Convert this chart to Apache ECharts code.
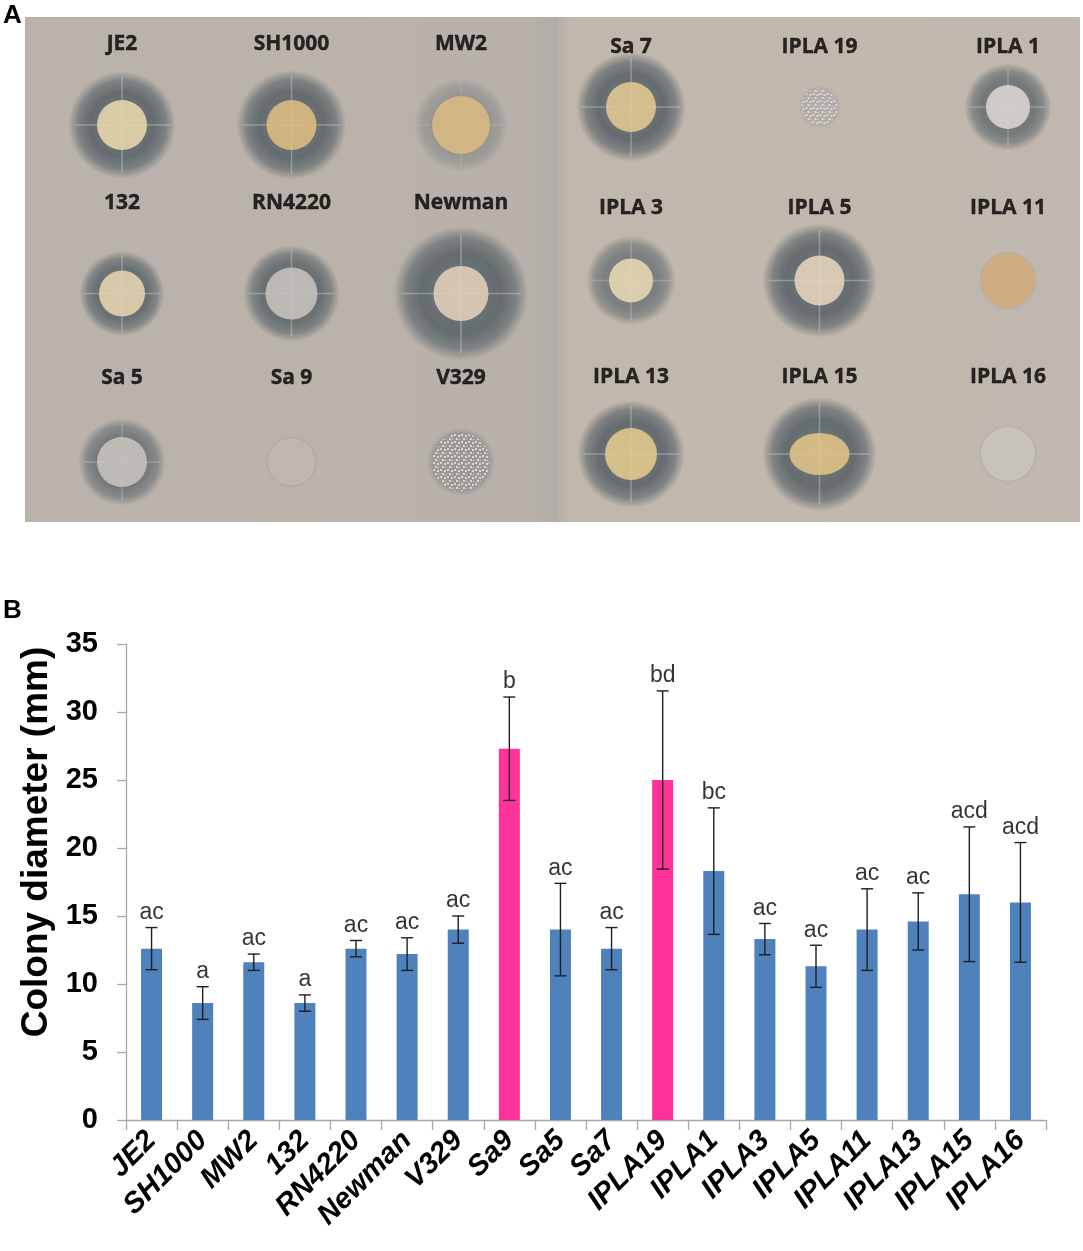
<!DOCTYPE html>
<html>
<head>
<meta charset="utf-8">
<title>Colony diameter</title>
<script src="https://cdn.jsdelivr.net/npm/echarts@6.0.0/dist/echarts.min.js"></script>
<style>
  html, body { margin: 0; padding: 0; background: #fff; }
  #chart { width: 1083px; height: 1251px; }
</style>
</head>
<body>
<div id="chart"></div>
<script>
// ---- panel B data ----
var strains = ['JE2', 'SH1000', 'MW2', '132', 'RN4220', 'Newman', 'V329', 'Sa9', 'Sa5', 'Sa7',
  'IPLA19', 'IPLA1', 'IPLA3', 'IPLA5', 'IPLA11', 'IPLA13', 'IPLA15', 'IPLA16'];
var diameter = [12.6, 8.6, 11.6, 8.6, 12.6, 12.2, 14.0, 27.3, 14.0, 12.6,
  25.0, 18.3, 13.3, 11.3, 14.0, 14.6, 16.6, 16.0];
var sd = [1.55, 1.2, 0.6, 0.6, 0.6, 1.2, 1.0, 3.8, 3.4, 1.55,
  6.55, 4.65, 1.15, 1.55, 3.0, 2.1, 4.95, 4.4];
var letters = ['ac', 'a', 'ac', 'a', 'ac', 'ac', 'ac', 'b', 'ac', 'ac',
  'bd', 'bc', 'ac', 'ac', 'ac', 'ac', 'acd', 'acd'];
var pinkStrains = ['Sa9', 'IPLA19'];
var yTicks = [0, 5, 10, 15, 20, 25, 30, 35];

// ---- panel A (plate photo) : strains in row order, 3 x 3 per plate ----
var plateLeft = ['JE2', 'SH1000', 'MW2', '132', 'RN4220', 'Newman', 'Sa 5', 'Sa 9', 'V329'];
var leftColony = [50, 50, 58, 46, 52, 55, 50, 47, 58];
var leftHalo = [96, 98, 84, 76, 86, 120, 78, 0, 62];
var leftHaloStrength = [1, 1, 0.4, 0.95, 0.95, 1, 0.8, 0, 0.35];
var plateRight = ['Sa 7', 'IPLA 19', 'IPLA 1', 'IPLA 3', 'IPLA 5', 'IPLA 11', 'IPLA 13', 'IPLA 15', 'IPLA 16'];
var rightColony = [50, 37, 44, 44, 50, 54, 52, 60, 54];
var rightHalo = [98, 0, 78, 80, 102, 0, 96, 102, 0];
var rightHaloStrength = [1, 0, 0.85, 0.75, 1, 0, 1, 1, 0];

// colony pigment colours and textures (style)
var leftColonyColor = ['#f3e2b3', '#e8c684', '#e4c185', '#f0dfb6', '#cfcbc6', '#eedac3', '#d0ccc7', '#c4bfb8', '#9f9c9b'];
var rightColonyColor = ['#eed296', '#b3afac', '#e4e0dd', '#f2e3bc', '#f2e0c6', '#d9b27c', '#eed291', '#ebcc8c', '#cfcac5'];
var colonyAspect = { 'IPLA 15': 0.7 };
var speckled = { 'V329': true, 'IPLA 19': true };

var chart = echarts.init(document.getElementById('chart'));

var FONT = '"Liberation Sans", Arial, sans-serif';
var AXIS_GRAY = '#a6a6a6';

// small repeating texture for the grainy colonies; symbols are drawn in a
// unit space scaled by size/2, so the pattern is scaled back by 2/size
function speckle(base, size) {
  var c = document.createElement('canvas');
  c.width = 7; c.height = 7;
  var g = c.getContext('2d');
  g.fillStyle = base;
  g.fillRect(0, 0, 7, 7);
  g.fillStyle = 'rgba(238,236,234,0.95)';
  g.fillRect(0, 0, 2, 2);
  g.fillRect(4, 1, 2, 2);
  g.fillRect(2, 4, 2, 2);
  g.fillRect(5, 5, 1, 1);
  return { image: c, repeat: 'repeat', scaleX: 2 / size, scaleY: 2 / size };
}

function plateSeries(names, colony, halo, strength, colors, gridIdx, lifts, prefix) {
  var haloData = [], colonyData = [], labelData = [], crossData = [];
  names.forEach(function (n, i) {
    var col = i % 3, row = Math.floor(i / 3);
    if (halo[i] > 0) {
      haloData.push({
        value: [col, row],
        symbolSize: halo[i] * 1.12,
        itemStyle: { opacity: strength[i] }
      });
      crossData.push([col, row, halo[i] * 0.5, strength[i]]);
    }
    var asp = colonyAspect[n] || 1;
    colonyData.push({
      value: [col, row],
      symbolSize: [colony[i], colony[i] * asp],
      itemStyle: { color: speckled[n] ? speckle(colors[i], colony[i]) : colors[i] }
    });
    labelData.push({
      value: [col, row],
      label: { offset: [0, -lifts[row]] }
    });
  });
  var haloColor = {
    type: 'radial', x: 0.5, y: 0.5, r: 0.5,
    colorStops: [
      { offset: 0, color: '#737a7d' },
      { offset: 0.6, color: '#646c70' },
      { offset: 0.82, color: 'rgba(100,108,112,0.7)' },
      { offset: 1, color: 'rgba(100,108,112,0)' }
    ]
  };
  return [
    {
      name: prefix + 'halo', type: 'scatter', xAxisIndex: gridIdx, yAxisIndex: gridIdx,
      data: haloData, symbol: 'circle', silent: true, z: 2,
      itemStyle: { color: haloColor }
    },
    {
      name: prefix + 'cross', type: 'custom', xAxisIndex: gridIdx, yAxisIndex: gridIdx,
      data: crossData, silent: true, z: 3,
      renderItem: function (params, api) {
        var p = api.coord([api.value(0), api.value(1)]);
        var r = api.value(2);
        var st = { stroke: 'rgba(215,215,215,' + (0.4 * api.value(3)) + ')', lineWidth: 1.5 };
        return {
          type: 'group', children: [
            { type: 'line', shape: { x1: p[0] - r, y1: p[1], x2: p[0] + r, y2: p[1] }, style: st },
            { type: 'line', shape: { x1: p[0], y1: p[1] - r, x2: p[0], y2: p[1] + r }, style: st }
          ]
        };
      }
    },
    {
      name: prefix + 'colony', type: 'scatter', xAxisIndex: gridIdx, yAxisIndex: gridIdx,
      data: colonyData, symbol: 'circle', silent: true, z: 4,
      itemStyle: { shadowBlur: 3, shadowColor: 'rgba(120,110,100,0.5)' }
    },
    {
      name: prefix + 'label', type: 'scatter', xAxisIndex: gridIdx, yAxisIndex: gridIdx,
      data: labelData, symbolSize: 1, silent: true, z: 5,
      itemStyle: { color: 'rgba(0,0,0,0)' },
      label: {
        show: true, position: 'inside',
        formatter: function (p) { return names[p.dataIndex]; },
        fontFamily: '"Open Sans", sans-serif', fontWeight: 'bold', fontSize: 21,
        color: '#000', textBorderColor: '#000', textBorderWidth: 0.4
      }
    }
  ];
}

var hiddenX = function (g) { return { gridIndex: g, type: 'value', min: 0, max: 2, show: false }; };
var hiddenY = function (g) { return { gridIndex: g, type: 'value', min: 0, max: 2, inverse: true, show: false }; };

var barData = diameter.map(function (v, i) {
  return {
    value: v,
    itemStyle: { color: pinkStrains.indexOf(strains[i]) >= 0 ? '#ff3399' : '#4f81bd' }
  };
});
var errData = diameter.map(function (v, i) { return [i, v - sd[i], v + sd[i]]; });
var letterData = diameter.map(function (v, i) { return [i, v + sd[i]]; });

var option = {
  animation: false,
  textStyle: { fontFamily: FONT },
  graphic: [
    {
      type: 'rect', z: 0, shape: { x: 25, y: 17, width: 532, height: 505 },
      style: {
        fill: {
          type: 'linear', x: 0, y: 0, x2: 1, y2: 0,
          colorStops: [
            { offset: 0, color: '#b9b3ac' }, { offset: 0.5, color: '#bab3aa' },
            { offset: 0.95, color: '#b7b1aa' }, { offset: 1, color: '#b0aca8' }
          ]
        }
      }
    },
    {
      type: 'rect', z: 0, shape: { x: 557, y: 17, width: 523, height: 505 },
      style: {
        fill: {
          type: 'linear', x: 0, y: 0, x2: 1, y2: 0,
          colorStops: [
            { offset: 0, color: '#b8b1a8' }, { offset: 0.03, color: '#c1b8ad' },
            { offset: 1, color: '#c0b8ae' }
          ]
        }
      }
    },
    { type: 'text', left: 3, top: 3, style: { text: 'A', font: 'bold 26px ' + FONT, fill: '#000' } },
    { type: 'text', left: 3, top: 598, style: { text: 'B', font: 'bold 26px ' + FONT, fill: '#000' } }
  ],
  grid: [
    { left: 126, right: 37, top: 644, bottom: 131, outerBoundsMode: 'none' },
    { left: 122, width: 339, top: 125, height: 337, outerBoundsMode: 'none' },
    { left: 631, width: 377, top: 107, height: 347, outerBoundsMode: 'none' }
  ],
  xAxis: [
    {
      gridIndex: 0, type: 'category', data: strains,
      axisLine: { lineStyle: { color: AXIS_GRAY, width: 1.3 } },
      axisTick: { show: true, interval: 0, length: 10, lineStyle: { color: AXIS_GRAY, width: 1.3 } },
      axisLabel: {
        interval: 0, rotate: 45, margin: 16, color: '#000',
        fontFamily: FONT, fontWeight: 'bold', fontStyle: 'italic', fontSize: 29
      }
    },
    hiddenX(1), hiddenX(2)
  ],
  yAxis: [
    {
      gridIndex: 0, type: 'value', min: yTicks[0], max: yTicks[yTicks.length - 1], interval: 5,
      name: 'Colony diameter (mm)', nameLocation: 'middle', nameGap: 64,
      nameTextStyle: {
        fontFamily: FONT, fontWeight: 'bold', fontSize: 37, color: '#000',
        padding: [0, 0, 0, 80]
      },
      axisLine: { show: true, lineStyle: { color: AXIS_GRAY, width: 1.3 } },
      axisTick: { show: true, length: 9, lineStyle: { color: AXIS_GRAY, width: 1.3 } },
      splitLine: { show: false },
      axisLabel: { margin: 28, color: '#000', fontFamily: FONT, fontWeight: 'bold', fontSize: 29 }
    },
    hiddenY(1), hiddenY(2)
  ],
  series: [
    {
      type: 'bar', xAxisIndex: 0, yAxisIndex: 0, data: barData, barWidth: 21, z: 2
    },
    {
      type: 'custom', xAxisIndex: 0, yAxisIndex: 0, data: errData, z: 3,
      encode: { x: 0, y: [1, 2] },
      renderItem: function (params, api) {
        var hi = api.coord([api.value(0), api.value(2)]);
        var lo = api.coord([api.value(0), api.value(1)]);
        var w = 6;
        var st = { stroke: '#1e1e1e', lineWidth: 1.4 };
        return {
          type: 'group', children: [
            { type: 'line', shape: { x1: hi[0], y1: hi[1], x2: lo[0], y2: lo[1] }, style: st },
            { type: 'line', shape: { x1: hi[0] - w, y1: hi[1], x2: hi[0] + w, y2: hi[1] }, style: st },
            { type: 'line', shape: { x1: lo[0] - w, y1: lo[1], x2: lo[0] + w, y2: lo[1] }, style: st }
          ]
        };
      }
    },
    {
      type: 'scatter', xAxisIndex: 0, yAxisIndex: 0, data: letterData, z: 4,
      symbolSize: 1, itemStyle: { color: 'rgba(0,0,0,0)' },
      label: {
        show: true, position: 'top', distance: 3,
        formatter: function (p) { return letters[p.dataIndex]; },
        fontFamily: FONT, fontSize: 23, color: '#000'
      }
    }
  ].concat(
    plateSeries(plateLeft, leftColony, leftHalo, leftHaloStrength, leftColonyColor, 1, [81, 90, 84], 'L'),
    plateSeries(plateRight, rightColony, rightHalo, rightHaloStrength, rightColonyColor, 2, [60, 72, 77], 'R')
  )
};

chart.setOption(option);
</script>
</body>
</html>
